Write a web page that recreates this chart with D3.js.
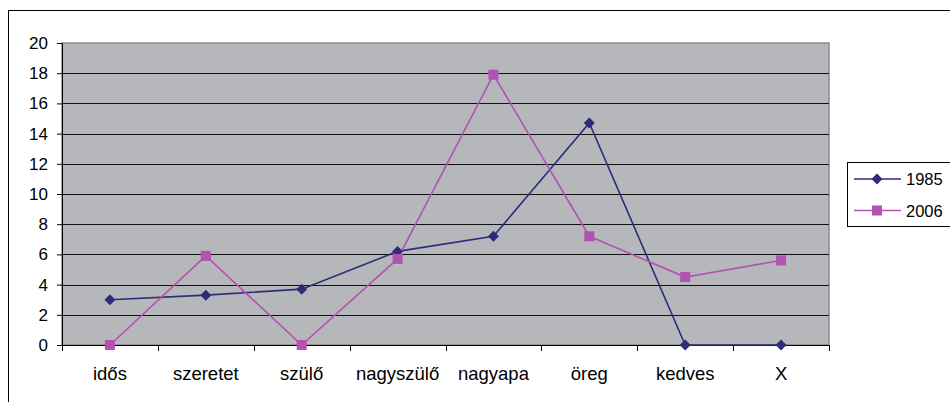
<!DOCTYPE html>
<html>
<head>
<meta charset="utf-8">
<script src="https://cdn.jsdelivr.net/npm/d3@7/dist/d3.min.js"></script>
<style>
  html, body { margin: 0; padding: 0; background: #fff; }
  svg { display: block; font-family: "Liberation Sans", Arial, sans-serif; }
</style>
</head>
<body>
<svg id="chart" width="950" height="402"></svg>
<script>
// Word frequencies by year
const categories = ["idős", "szeretet", "szülő", "nagyszülő", "nagyapa", "öreg", "kedves", "X"];
const values1985 = [3.0, 3.3, 3.7, 6.2, 7.2, 14.7, 0, 0];
const values2006 = [0, 5.9, 0, 5.7, 17.9, 7.2, 4.5, 5.6];
const seriesNames = ["1985", "2006"];
const yTicks = [0, 2, 4, 6, 8, 10, 12, 14, 16, 18, 20];

const colors = { "1985": "#2e2b7a", "2006": "#b352b0" };

const svg = d3.select("#chart");
const plot = { left: 62, top: 43, right: 829, bottom: 345 };

// outer frame (runs off the right and bottom edges)
svg.append("rect")
  .attr("x", 8.5).attr("y", 10.5)
  .attr("width", 960).attr("height", 420)
  .attr("fill", "#fff").attr("stroke", "#000").attr("stroke-width", 1);

const x = d3.scaleBand().domain(categories).range([plot.left, plot.right]).padding(0);
const y = d3.scaleLinear().domain([0, 20]).range([plot.bottom, plot.top]);

// plot background
svg.append("rect")
  .attr("x", plot.left).attr("y", plot.top)
  .attr("width", plot.right - plot.left).attr("height", plot.bottom - plot.top)
  .attr("fill", "#b6b7bb").attr("stroke", "#8a8a8a").attr("stroke-width", 1.5);

// horizontal gridlines
svg.append("g").selectAll("line")
  .data(yTicks.filter(t => t > 0 && t < 20))
  .join("line")
  .attr("x1", plot.left).attr("x2", plot.right)
  .attr("y1", d => Math.round(y(d)) + 0.5).attr("y2", d => Math.round(y(d)) + 0.5)
  .attr("stroke", "#111").attr("stroke-width", 1);

// y axis
const yAxis = svg.append("g")
  .attr("transform", `translate(${plot.left},0)`)
  .call(d3.axisLeft(y).tickValues(yTicks).tickSize(5).tickPadding(9).tickFormat(d3.format("d")));
yAxis.select(".domain").attr("stroke", "#000");
yAxis.selectAll(".tick line").attr("stroke", "#000");
yAxis.selectAll(".tick text").attr("font-size", 17).attr("fill", "#000")
  .attr("font-family", "Liberation Sans, Arial, sans-serif");

// x axis with ticks at category boundaries
const xAxisG = svg.append("g").attr("transform", `translate(0,${plot.bottom})`);
xAxisG.append("line")
  .attr("x1", plot.left).attr("x2", plot.right)
  .attr("y1", 0.5).attr("y2", 0.5)
  .attr("stroke", "#000");
const boundaries = categories.map(c => x(c)).concat([x(categories[categories.length - 1]) + x.bandwidth()]);
xAxisG.selectAll(".bt").data(boundaries).join("line")
  .attr("class", "bt")
  .attr("x1", d => Math.round(d) + 0.5).attr("x2", d => Math.round(d) + 0.5)
  .attr("y1", 0).attr("y2", 6)
  .attr("stroke", "#000");
xAxisG.selectAll("text").data(categories).join("text")
  .attr("x", d => x(d) + x.bandwidth() / 2)
  .attr("y", 35)
  .attr("text-anchor", "middle")
  .attr("font-size", 18.5)
  .attr("fill", "#000")
  .text(d => d);

const cx = d => x(d) + x.bandwidth() / 2;
const line = d3.line().x(d => cx(d.cat)).y(d => y(d.v));

const series = [
  { name: "1985", values: values1985 },
  { name: "2006", values: values2006 }
];

series.forEach(s => {
  const pts = categories.map((c, i) => ({ cat: c, v: s.values[i] }));
  svg.append("path")
    .datum(pts)
    .attr("d", line)
    .attr("fill", "none")
    .attr("stroke", colors[s.name])
    .attr("stroke-width", 1.6);
});

// markers: diamond for 1985, square for 2006
function marker(g, s, px, py) {
  if (s.name === "1985") {
    g.append("path")
      .attr("d", `M${px},${py - 5.5}L${px + 5.5},${py}L${px},${py + 5.5}L${px - 5.5},${py}Z`)
      .attr("fill", colors[s.name]);
  } else {
    g.append("rect")
      .attr("x", px - 5).attr("y", py - 5)
      .attr("width", 10).attr("height", 10)
      .attr("fill", colors[s.name]);
  }
}
series.forEach(s => {
  const g = svg.append("g");
  categories.forEach((c, i) => marker(g, s, cx(c), y(s.values[i])));
});

// legend
const leg = svg.append("g");
leg.append("rect")
  .attr("x", 847.5).attr("y", 162.5)
  .attr("width", 110).attr("height", 64)
  .attr("fill", "#fff").attr("stroke", "#000").attr("stroke-width", 1);
series.forEach((s, i) => {
  const ly = 179 + i * 31.5;
  leg.append("line")
    .attr("x1", 854).attr("x2", 901)
    .attr("y1", ly).attr("y2", ly)
    .attr("stroke", colors[s.name]).attr("stroke-width", 1.6);
  marker(leg, s, 877, ly);
  leg.append("text")
    .attr("x", 906).attr("y", ly + 6)
    .attr("font-size", 16.5).attr("fill", "#000")
    .text(s.name);
});
</script>
</body>
</html>
